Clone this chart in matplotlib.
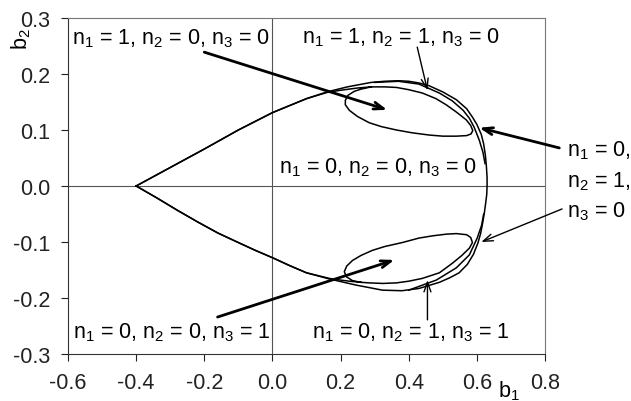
import matplotlib
matplotlib.use("Agg")
import matplotlib.pyplot as plt
from matplotlib.ticker import FormatStrFormatter

plt.rcParams['font.family'] = ['Liberation Sans', 'DejaVu Sans']
plt.rcParams['mathtext.fontset'] = 'custom'
plt.rcParams['mathtext.rm'] = 'Liberation Sans'
plt.rcParams['axes.unicode_minus'] = False

# ---- data ----
outer_x = [-0.40, -0.30, -0.20, -0.10, 0.00, 0.10, 0.16, 0.22, 0.29, 0.33, 0.37, 0.40, 0.43, 0.46, 0.50,
           0.54, 0.57, 0.587, 0.600, 0.613, 0.620, 0.625, 0.628, 0.630, 0.630,
           0.629, 0.626, 0.622, 0.617, 0.611, 0.603, 0.590, 0.572, 0.548, 0.52, 0.49, 0.43, 0.38, 0.323,
           0.246, 0.167, 0.10, 0.05, 0.00, -0.05, -0.10, -0.16, -0.22, -0.28, -0.34, -0.40]
outer_y = [0.000, 0.033, 0.066, 0.100, 0.131, 0.156, 0.168, 0.177, 0.185, 0.187, 0.188, 0.187, 0.184, 0.179,
           0.168, 0.154, 0.138, 0.123, 0.110, 0.092, 0.075, 0.055, 0.035, 0.015, 0.000,
           -0.015, -0.030, -0.048, -0.066, -0.085, -0.102, -0.122, -0.140, -0.155, -0.164, -0.172, -0.183,
           -0.187, -0.186, -0.177, -0.166, -0.155, -0.142, -0.128, -0.115, -0.101, -0.084, -0.064, -0.043,
           -0.021, 0.000]

loop_up_x = [-0.40, -0.30, -0.20, -0.10, 0.00, 0.10, 0.16, 0.20, 0.25, 0.29, 0.33, 0.364, 0.40, 0.44, 0.48,
             0.51, 0.54, 0.569, 0.582, 0.588, 0.583, 0.57, 0.54, 0.50, 0.46, 0.41, 0.364, 0.32, 0.284, 0.25,
             0.226, 0.214, 0.214, 0.222, 0.24, 0.26, 0.29]
loop_up_y = [0.000, 0.033, 0.066, 0.100, 0.131, 0.156, 0.167, 0.171, 0.175, 0.177, 0.177, 0.176, 0.172, 0.166,
             0.156, 0.145, 0.132, 0.118, 0.108, 0.099, 0.093, 0.090, 0.089, 0.089, 0.091, 0.095, 0.100, 0.106,
             0.113, 0.124, 0.135, 0.145, 0.153, 0.162, 0.169, 0.173, 0.177]

inner_up_x = [0.30, 0.37, 0.43, 0.49, 0.528, 0.56, 0.578, 0.592, 0.607, 0.618, 0.624]
inner_up_y = [0.185, 0.187, 0.182, 0.166, 0.152, 0.135, 0.121, 0.105, 0.082, 0.060, 0.040]

loop_lo_x = [-0.40, -0.34, -0.28, -0.22, -0.16, -0.10, -0.05, 0.00, 0.05, 0.10, 0.167, 0.20, 0.226, 0.26,
             0.284, 0.324, 0.364, 0.40, 0.44, 0.49, 0.528, 0.556, 0.578, 0.587, 0.582, 0.57, 0.54, 0.51, 0.47,
             0.43, 0.381, 0.33, 0.293, 0.26, 0.235, 0.218, 0.211, 0.217, 0.235, 0.26]
loop_lo_y = [0.000, -0.021, -0.043, -0.064, -0.084, -0.101, -0.115, -0.128, -0.142, -0.155, -0.165, -0.168,
             -0.170, -0.172, -0.173, -0.174, -0.173, -0.170, -0.165, -0.155, -0.138, -0.124, -0.111, -0.101,
             -0.092, -0.087, -0.085, -0.086, -0.089, -0.093, -0.101, -0.108, -0.115, -0.124, -0.133, -0.143,
             -0.153, -0.162, -0.169, -0.172]

inner_lo_x = [0.40, 0.481, 0.54, 0.578, 0.601, 0.614, 0.620]
inner_lo_y = [-0.186, -0.168, -0.146, -0.123, -0.093, -0.070, -0.050]

x_ticks = [-0.6, -0.4, -0.2, 0.0, 0.2, 0.4, 0.6, 0.8]
y_ticks = [-0.3, -0.2, -0.1, 0.0, 0.1, 0.2, 0.3]


def lab(a, b, c):
    return (r'n$\mathregular{_1}$ = %s, n$\mathregular{_2}$ = %s, n$\mathregular{_3}$ = %s' % (a, b, c))


# ---- figure ----
W, H = 631, 402
fig = plt.figure(figsize=(W / 100, H / 100), dpi=100)
ax = fig.add_axes([68 / W, 1 - 355 / H, 477 / W, 336 / H])

fs = 15.5
ax.set_xlim(-0.6, 0.8)
ax.set_ylim(-0.3, 0.3)
ax.set_xticks(x_ticks)
ax.set_yticks(y_ticks)
ax.xaxis.set_major_formatter(FormatStrFormatter('%.1f'))
ax.yaxis.set_major_formatter(FormatStrFormatter('%.1f'))
ax.tick_params(direction='out', length=5, width=0.8, labelsize=fs, colors='#222222')
ax.tick_params(axis='x', pad=8)
ax.tick_params(axis='y', pad=8)
for s in ['left', 'bottom']:
    ax.spines[s].set_color('#333333')
    ax.spines[s].set_linewidth(0.8)
for s in ['top', 'right']:
    ax.spines[s].set_color('#777777')
    ax.spines[s].set_linewidth(0.8)

ax.axhline(0, color='#555555', lw=0.8, zorder=1)
ax.axvline(0, color='#555555', lw=0.8, zorder=1)

lw = 1.1
for xs, ys in [(outer_x, outer_y), (loop_up_x, loop_up_y), (inner_up_x, inner_up_y),
               (loop_lo_x, loop_lo_y), (inner_lo_x, inner_lo_y)]:
    ax.plot(xs, ys, color='black', lw=lw, solid_joinstyle='round', zorder=3)

ax.text(-0.589, 0.255, lab(1, 0, 0), fontsize=fs, va='baseline', ha='left')
ax.text(0.088, 0.257, lab(1, 1, 0), fontsize=fs, va='baseline', ha='left')
ax.text(0.0205, 0.025, lab(0, 0, 0), fontsize=fs, va='baseline', ha='left')
ax.text(-0.586, -0.271, lab(0, 0, 1), fontsize=fs, va='baseline', ha='left')
ax.text(0.117, -0.271, lab(0, 1, 1), fontsize=fs, va='baseline', ha='left')
ax.text(0.865, 0.055, r'n$\mathregular{_1}$ = 0,', fontsize=fs, va='baseline', ha='left', clip_on=False)
ax.text(0.865, 0.000, r'n$\mathregular{_2}$ = 1,', fontsize=fs, va='baseline', ha='left', clip_on=False)
ax.text(0.865, -0.055, r'n$\mathregular{_3}$ = 0', fontsize=fs, va='baseline', ha='left', clip_on=False)

thick = dict(arrowstyle='->,head_length=0.7,head_width=0.25', lw=2.0, color='black', shrinkA=0, shrinkB=0)
thin = dict(arrowstyle='->,head_length=0.7,head_width=0.25', lw=1.0, color='black', shrinkA=0, shrinkB=0)
ax.annotate('', xy=(0.337, 0.136), xytext=(-0.20, 0.239), arrowprops=thick, annotation_clip=False)
ax.annotate('', xy=(0.455, 0.171), xytext=(0.425, 0.248), arrowprops=thin, annotation_clip=False)
ax.annotate('', xy=(0.607, 0.104), xytext=(0.842, 0.068), arrowprops=thick, annotation_clip=False)
ax.annotate('', xy=(0.613, -0.100), xytext=(0.850, -0.041), arrowprops=thin, annotation_clip=False)
ax.annotate('', xy=(0.358, -0.132), xytext=(-0.161, -0.234), arrowprops=thick, annotation_clip=False)
ax.annotate('', xy=(0.455, -0.168), xytext=(0.455, -0.239), arrowprops=thin, annotation_clip=False)

fig.text(21 / W, 1 - 39 / H, r'b$\mathregular{_2}$', fontsize=fs, rotation=90, ha='center', va='center')
fig.text(509 / W, 1 - 391 / H, r'b$\mathregular{_1}$', fontsize=fs, ha='center', va='center')

fig.savefig('out.png', dpi=100)
